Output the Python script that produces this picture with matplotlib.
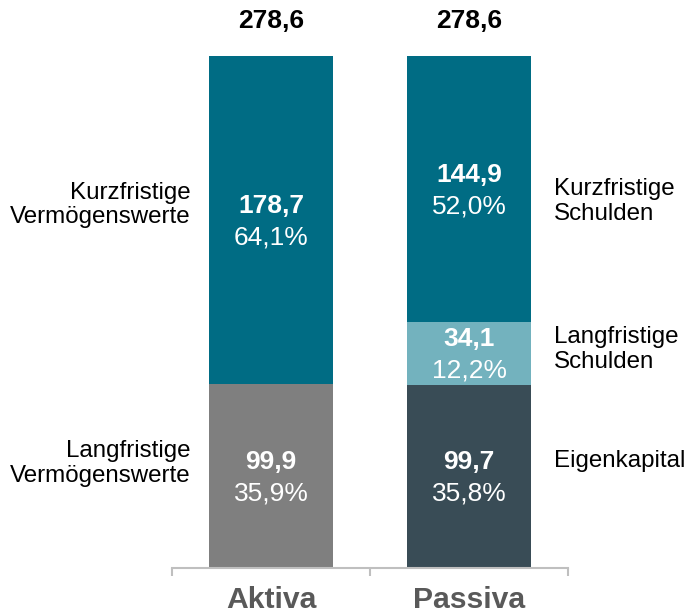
#!/usr/bin/env python3
"""Bilanzstruktur: Aktiva vs. Passiva als gestapelte Balken"""

import os
import matplotlib
matplotlib.use("Agg")
import matplotlib.pyplot as plt
from matplotlib import font_manager as fm

### data
categories = ["Aktiva", "Passiva"]
totals = ["278,6", "278,6"]

# segments bottom -> top for each column
aktiva_values = [99.9, 178.7]
aktiva_labels = ["99,9", "178,7"]
aktiva_shares = ["35,9%", "64,1%"]
aktiva_names = ["Langfristige\nVermögenswerte", "Kurzfristige\nVermögenswerte"]

passiva_values = [99.7, 34.1, 144.9]
passiva_labels = ["99,7", "34,1", "144,9"]
passiva_shares = ["35,8%", "12,2%", "52,0%"]
passiva_names = ["Eigenkapital", "Langfristige\nSchulden", "Kurzfristige\nSchulden"]

### styles
aktiva_colors = ["#7F7F7F", "#006C84"]
passiva_colors = ["#394C56", "#73B2BE", "#006C84"]
aktiva_name_dy = [9, 11]        # vertical offset (pt) of side labels
passiva_name_dy = [11, 3, -9]
axis_grey = "#BFBFBF"

# make sure the regular Liberation Sans (not Narrow) is used
reg_file = [f for f in fm.findSystemFonts() if os.path.basename(f) == "LiberationSans-Regular.ttf"]
bold_file = [f for f in fm.findSystemFonts() if os.path.basename(f) == "LiberationSans-Bold.ttf"]
if reg_file and bold_file:
    fp_reg = fm.FontProperties(fname=reg_file[0])
    fp_bold = fm.FontProperties(fname=bold_file[0])
else:
    fp_reg = fm.FontProperties(family="Liberation Sans")
    fp_bold = fm.FontProperties(family="Liberation Sans", weight="bold")


def fp(base, size):
    p = base.copy()
    p.set_size(size)
    return p


fig = plt.figure(figsize=(6.88, 6.13), dpi=100)
ax = fig.add_axes([172 / 688, 45 / 613, 396 / 688, 512 / 613])

x_pos = [0.5, 1.5]
width = 0.63


def draw_stack(x, values, colors, labels, shares, names, name_dy, side):
    bottom = 0
    for val, col, lab, sh, nm, dy in zip(values, colors, labels, shares, names, name_dy):
        ax.bar(x, val, width, bottom=bottom, color=col, linewidth=0)
        mid = bottom + val / 2
        ax.annotate(lab, (x, mid), xytext=(0, 10.5), textcoords="offset points",
                    ha="center", va="center", color="white",
                    fontproperties=fp(fp_bold, 19))
        ax.annotate(sh, (x, mid), xytext=(0, -12.5), textcoords="offset points",
                    ha="center", va="center", color="white",
                    fontproperties=fp(fp_reg, 19))
        if side == "left":
            ax.annotate(nm, (x - width / 2, mid), xytext=(-13, dy),
                        textcoords="offset points", ha="right", va="center",
                        multialignment="right", fontproperties=fp(fp_reg, 17.4),
                        color="black", linespacing=1.15, annotation_clip=False)
        else:
            ax.annotate(nm, (x + width / 2, mid), xytext=(16, dy),
                        textcoords="offset points", ha="left", va="center",
                        multialignment="left", fontproperties=fp(fp_reg, 17.4),
                        color="black", linespacing=1.15, annotation_clip=False)
        bottom += val
    return bottom


top_a = draw_stack(x_pos[0], aktiva_values, aktiva_colors, aktiva_labels,
                   aktiva_shares, aktiva_names, aktiva_name_dy, "left")
top_p = draw_stack(x_pos[1], passiva_values, passiva_colors, passiva_labels,
                   passiva_shares, passiva_names, passiva_name_dy, "right")

# totals above the bars
for x, top, tot in zip(x_pos, [top_a, top_p], totals):
    ax.annotate(tot, (x, top), xytext=(0, 25), textcoords="offset points",
                ha="center", va="center", fontproperties=fp(fp_bold, 19),
                color="black", annotation_clip=False)

ax.set_xlim(0, 2)
ax.set_ylim(0, max(sum(aktiva_values), sum(passiva_values)))

for s in ["top", "right", "left"]:
    ax.spines[s].set_visible(False)
ax.spines["bottom"].set_color(axis_grey)
ax.spines["bottom"].set_linewidth(1.5)
ax.set_yticks([])

ax.set_xticks([0, 1, 2])
ax.set_xticklabels(["", "", ""])
ax.tick_params(axis="x", which="major", length=6, width=1.5, color=axis_grey,
               direction="out")
ax.set_xticks(x_pos, minor=True)
ax.set_xticklabels(categories, minor=True, fontproperties=fp(fp_bold, 21.7),
                   color="#595959")
ax.tick_params(axis="x", which="minor", length=0, pad=13)

fig.savefig("out.png", dpi=100)
